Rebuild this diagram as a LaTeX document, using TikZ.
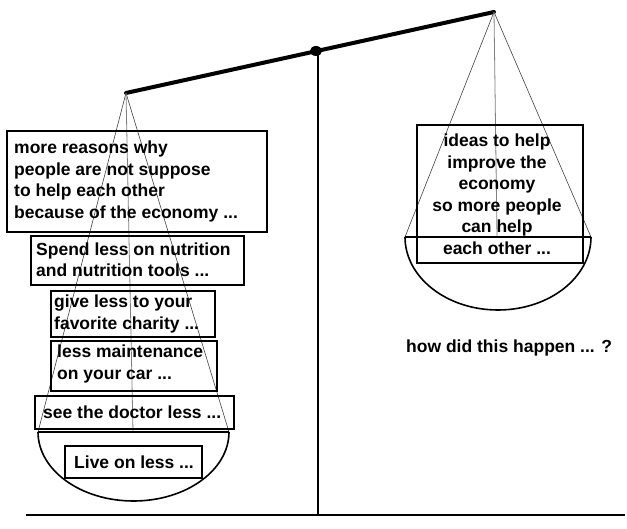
\documentclass[tikz,border=0pt]{standalone}
\usepackage{fontspec}
\setmainfont{Liberation Sans}
\begin{document}
\begin{tikzpicture}[x=1pt,y=-1pt,
  box/.style={draw, line width=1.8pt, inner sep=0pt, outer sep=0pt},
  txt/.style={inner sep=0pt, anchor=west, align=left, font=\bfseries\fontsize{17.5}{21.5}\selectfont},
  rope/.style={line width=0.6pt, black!75},
  crope/.style={line width=0.8pt, gray},
  beam/.style={line width=4pt, line cap=round},
  post/.style={line width=2.5pt},
  pan/.style={line width=1.6pt}]
\useasboundingbox (0,0) rectangle (627,529);
% stand
\draw[post] (26,515) -- (625,515);
\coordinate (pivot) at (316,51);
\coordinate (base) at (318,515);
\draw[post] (318,51) -- (base);
% beam
\coordinate (la) at (126,93);
\coordinate (ra) at (494,12);
\draw[beam] (la) -- (ra);
\fill (pivot) ellipse [x radius=6pt, y radius=5pt];
% left pan
\coordinate (ll) at (38,432);
\coordinate (lc) at (133,432);
\coordinate (lr) at (229,432);
\draw[rope] (la) -- (ll);
\draw[rope] (la) -- (lr);
\draw[crope] (la) -- (lc);
\draw[pan] (ll) -- (lr);
\draw[pan] (ll) arc[start angle=180, end angle=360, x radius=95.5pt, y radius=69pt];
% right pan
\coordinate (rl) at (405,237);
\coordinate (rc) at (497,237);
\coordinate (rr) at (591,237);
\draw[rope] (ra) -- (rl);
\draw[rope] (ra) -- (rr);
\draw[crope] (ra) -- (rc);
\draw[pan] (rl) -- (rr);
\draw[pan] (rl) arc[start angle=180, end angle=360, x radius=93pt, y radius=73pt];
% left boxes
\node[box, minimum width=260pt, minimum height=101pt] (b1) at (137,181.5) {};
\node[txt] (t1) at ([xshift=7pt]b1.west) {more reasons why\\people are not suppose\\to help each other\\because of the economy ...};
\node[box, minimum width=213pt, minimum height=49pt] (b2) at (137.5,260.5) {};
\node[txt] (t2) at ([xshift=5pt,yshift=1pt]b2.west) {Spend less on nutrition\\and nutrition tools ...};
\node[box, minimum width=164pt, minimum height=46pt] (b3) at (133,314) {};
\node[txt] (t3) at ([xshift=3pt]b3.west) {give less to your\\favorite charity ...};
\node[box, minimum width=166pt, minimum height=50pt] (b4) at (134,366) {};
\node[txt] (t4) at ([xshift=6pt,yshift=2pt]b4.west) {less maintenance\\on your car ...};
\node[box, minimum width=199pt, minimum height=33pt] (b5) at (134.5,412.5) {};
\node[txt] (t5) at ([xshift=8pt]b5.west) {see the doctor less ...};
\node[box, minimum width=137pt, minimum height=32pt] (b6) at (133.5,462) {};
\node[txt] (t6) at ([xshift=9pt]b6.west) {Live on less ...};
% right box
\node[box, minimum width=166pt, minimum height=138pt] (r1) at (500,194) {};
\node[txt, anchor=center, align=center] (rt) at (497,194) {ideas to help\\improve the\\economy\\so more people\\can help\\each other ...};
% question
\node[txt] (q) at (406,348) {how did this happen ... ?};
\end{tikzpicture}
\end{document}
